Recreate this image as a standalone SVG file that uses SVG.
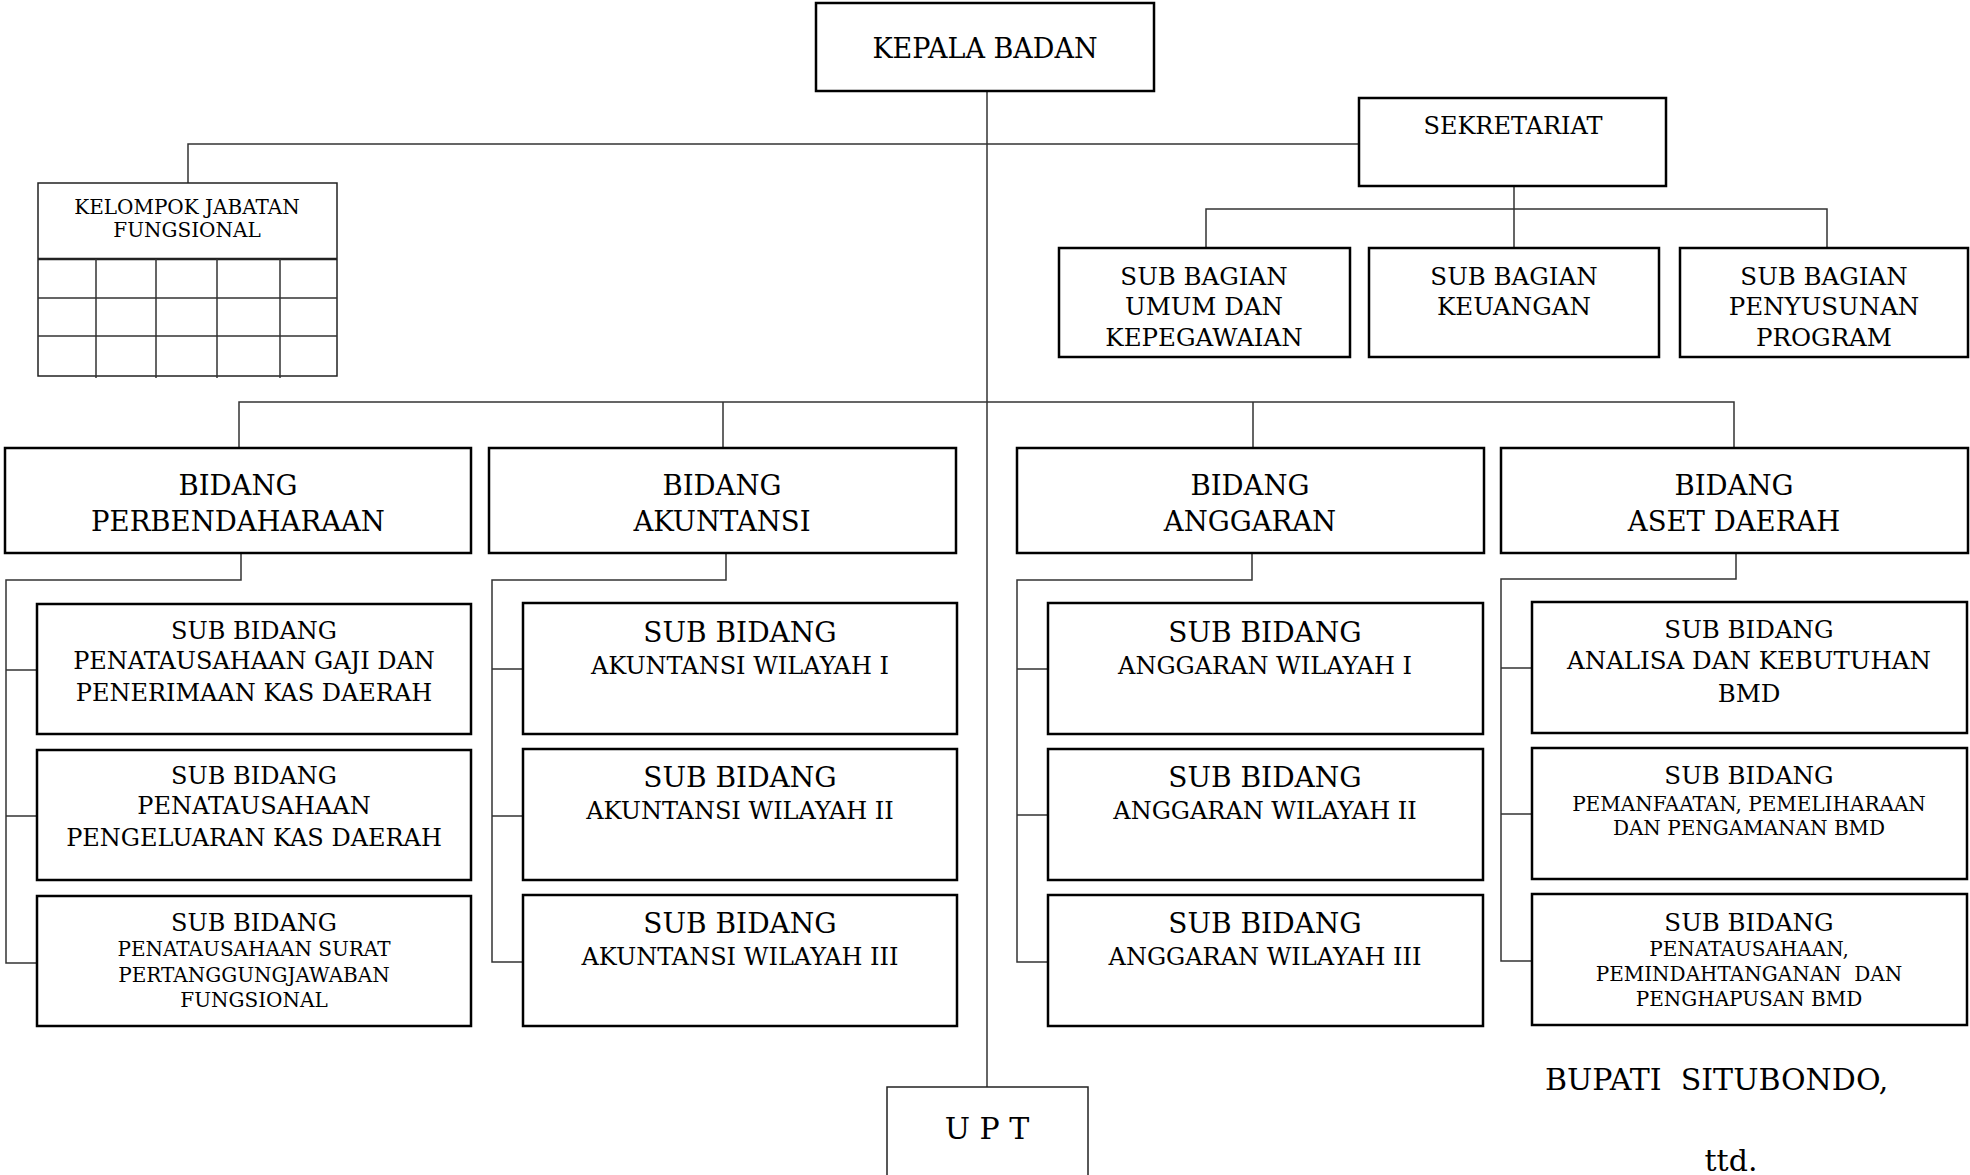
<svg xmlns="http://www.w3.org/2000/svg" width="1970" height="1175" viewBox="0 0 1970 1175">
<style>
.box{fill:#fff;stroke:#000;stroke-width:2.5}
.thin{fill:#fff;stroke:#222;stroke-width:1.5}
.conn{fill:none;stroke:#333;stroke-width:1.5}
text{font-family:"DejaVu Serif","Liberation Serif",serif;fill:#000;text-anchor:middle}
.t27{font-size:27px}
.t24{font-size:24px}
.t245{font-size:24.5px}
.t28{font-size:28px}
.t20{font-size:20px}
.tb{font-size:27.5px}
</style>
<rect width="1970" height="1175" fill="#fff"/>
<g id="connectors">
<path class="conn" d="M987 91V1087"/>
<path class="conn" d="M188 183V144H1359"/>
<path class="conn" d="M1514 186V248M1206 248V209H1827V248"/>
<path class="conn" d="M239 448V402H1734V448M723 402V448M1253 402V448"/>
<path class="conn" d="M241 553V580H6V963H37M6 670H37M6 816H37"/>
<path class="conn" d="M726 553V580H492V962H523M492 669H523M492 816H523"/>
<path class="conn" d="M1252 553V580H1017V962H1048M1017 669H1048M1017 815H1048"/>
<path class="conn" d="M1736 553V579H1501V961H1532M1501 668H1532M1501 814H1532"/>
</g>
<g id="kepala"><rect class="box" x="816" y="3" width="338" height="88"/><text class="t27" x="985" y="58">KEPALA BADAN</text></g>
<g id="kelompok">
<rect class="thin" x="38" y="183" width="299" height="193"/>
<path class="thin" d="M38 259H337" style="stroke-width:2.5"/>
<path class="conn" d="M38 298H337M38 336H337M96 259V378M156 259V378M217 259V378M280 259V378"/>
<text class="t20" x="187" y="214">KELOMPOK JABATAN</text>
<text class="t20" x="187" y="237">FUNGSIONAL</text>
</g>
<g id="sekretariat"><rect class="box" x="1359" y="98" width="307" height="88"/><text class="t24" x="1513" y="134">SEKRETARIAT</text></g>
<g id="sub-umum"><rect class="box" x="1059" y="248" width="291" height="109"/>
<text class="t245" x="1204" y="285">SUB BAGIAN</text><text class="t245" x="1204" y="315">UMUM DAN</text><text class="t245" x="1204" y="346">KEPEGAWAIAN</text></g>
<g id="sub-keuangan"><rect class="box" x="1369" y="248" width="290" height="109"/>
<text class="t245" x="1514" y="285">SUB BAGIAN</text><text class="t245" x="1514" y="315">KEUANGAN</text></g>
<g id="sub-program"><rect class="box" x="1680" y="248" width="288" height="109"/>
<text class="t245" x="1824" y="285">SUB BAGIAN</text><text class="t245" x="1824" y="315">PENYUSUNAN</text><text class="t245" x="1824" y="346">PROGRAM</text></g>

<g id="bidang-perbendaharaan"><rect class="box" x="5" y="448" width="466" height="105"/>
<text class="tb" x="238" y="495">BIDANG</text><text class="tb" x="238" y="531">PERBENDAHARAAN</text></g>
<g id="bidang-akuntansi"><rect class="box" x="489" y="448" width="467" height="105"/>
<text class="tb" x="722" y="495">BIDANG</text><text class="tb" x="722" y="531">AKUNTANSI</text></g>
<g id="bidang-anggaran"><rect class="box" x="1017" y="448" width="467" height="105"/>
<text class="tb" x="1250" y="495">BIDANG</text><text class="tb" x="1250" y="531">ANGGARAN</text></g>
<g id="bidang-aset"><rect class="box" x="1501" y="448" width="467" height="105"/>
<text class="tb" x="1734" y="495">BIDANG</text><text class="tb" x="1734" y="531">ASET DAERAH</text></g>

<g id="sb-gaji"><rect class="box" x="37" y="604" width="434" height="130"/>
<text class="t24" x="254" y="639">SUB BIDANG</text><text class="t24" x="254" y="669">PENATAUSAHAAN GAJI DAN</text><text class="t24" x="254" y="701">PENERIMAAN KAS DAERAH</text></g>
<g id="sb-pengeluaran"><rect class="box" x="37" y="750" width="434" height="130"/>
<text class="t24" x="254" y="784">SUB BIDANG</text><text class="t24" x="254" y="814">PENATAUSAHAAN</text><text class="t24" x="254" y="846">PENGELUARAN KAS DAERAH</text></g>
<g id="sb-surat"><rect class="box" x="37" y="896" width="434" height="130"/>
<text class="t24" x="254" y="931">SUB BIDANG</text><text class="t20" x="254" y="956">PENATAUSAHAAN SURAT</text><text class="t20" x="254" y="982">PERTANGGUNGJAWABAN</text><text class="t20" x="254" y="1007">FUNGSIONAL</text></g>

<g id="sb-akun1"><rect class="box" x="523" y="603" width="434" height="131"/>
<text class="t28" x="740" y="642">SUB BIDANG</text><text class="t24" x="740" y="674">AKUNTANSI WILAYAH I</text></g>
<g id="sb-akun2"><rect class="box" x="523" y="749" width="434" height="131"/>
<text class="t28" x="740" y="787">SUB BIDANG</text><text class="t24" x="740" y="819">AKUNTANSI WILAYAH II</text></g>
<g id="sb-akun3"><rect class="box" x="523" y="895" width="434" height="131"/>
<text class="t28" x="740" y="933">SUB BIDANG</text><text class="t24" x="740" y="965">AKUNTANSI WILAYAH III</text></g>

<g id="sb-angg1"><rect class="box" x="1048" y="603" width="435" height="131"/>
<text class="t28" x="1265" y="642">SUB BIDANG</text><text class="t24" x="1265" y="674">ANGGARAN WILAYAH I</text></g>
<g id="sb-angg2"><rect class="box" x="1048" y="749" width="435" height="131"/>
<text class="t28" x="1265" y="787">SUB BIDANG</text><text class="t24" x="1265" y="819">ANGGARAN WILAYAH II</text></g>
<g id="sb-angg3"><rect class="box" x="1048" y="895" width="435" height="131"/>
<text class="t28" x="1265" y="933">SUB BIDANG</text><text class="t24" x="1265" y="965">ANGGARAN WILAYAH III</text></g>

<g id="sb-aset1"><rect class="box" x="1532" y="602" width="435" height="131"/>
<text class="t245" x="1749" y="638">SUB BIDANG</text><text class="t245" x="1749" y="669">ANALISA DAN KEBUTUHAN</text><text class="t245" x="1749" y="702">BMD</text></g>
<g id="sb-aset2"><rect class="box" x="1532" y="748" width="435" height="131"/>
<text class="t245" x="1749" y="784">SUB BIDANG</text><text class="t20" x="1749" y="811">PEMANFAATAN, PEMELIHARAAN</text><text class="t20" x="1749" y="835">DAN PENGAMANAN BMD</text></g>
<g id="sb-aset3"><rect class="box" x="1532" y="894" width="435" height="131"/>
<text class="t245" x="1749" y="931">SUB BIDANG</text><text class="t20" x="1749" y="956">PENATAUSAHAAN,</text><text class="t20" x="1749" y="981" xml:space="preserve">PEMINDAHTANGANAN  DAN</text><text class="t20" x="1749" y="1006">PENGHAPUSAN BMD</text></g>

<g id="upt"><rect class="thin" x="887" y="1087" width="201" height="95"/><text x="987" y="1139" style="font-size:30px">U P T</text></g>
<text x="1545" y="1090" style="font-size:30px;text-anchor:start" xml:space="preserve">BUPATI  SITUBONDO,</text>
<text x="1731" y="1171" style="font-size:30px">ttd.</text>
</svg>
